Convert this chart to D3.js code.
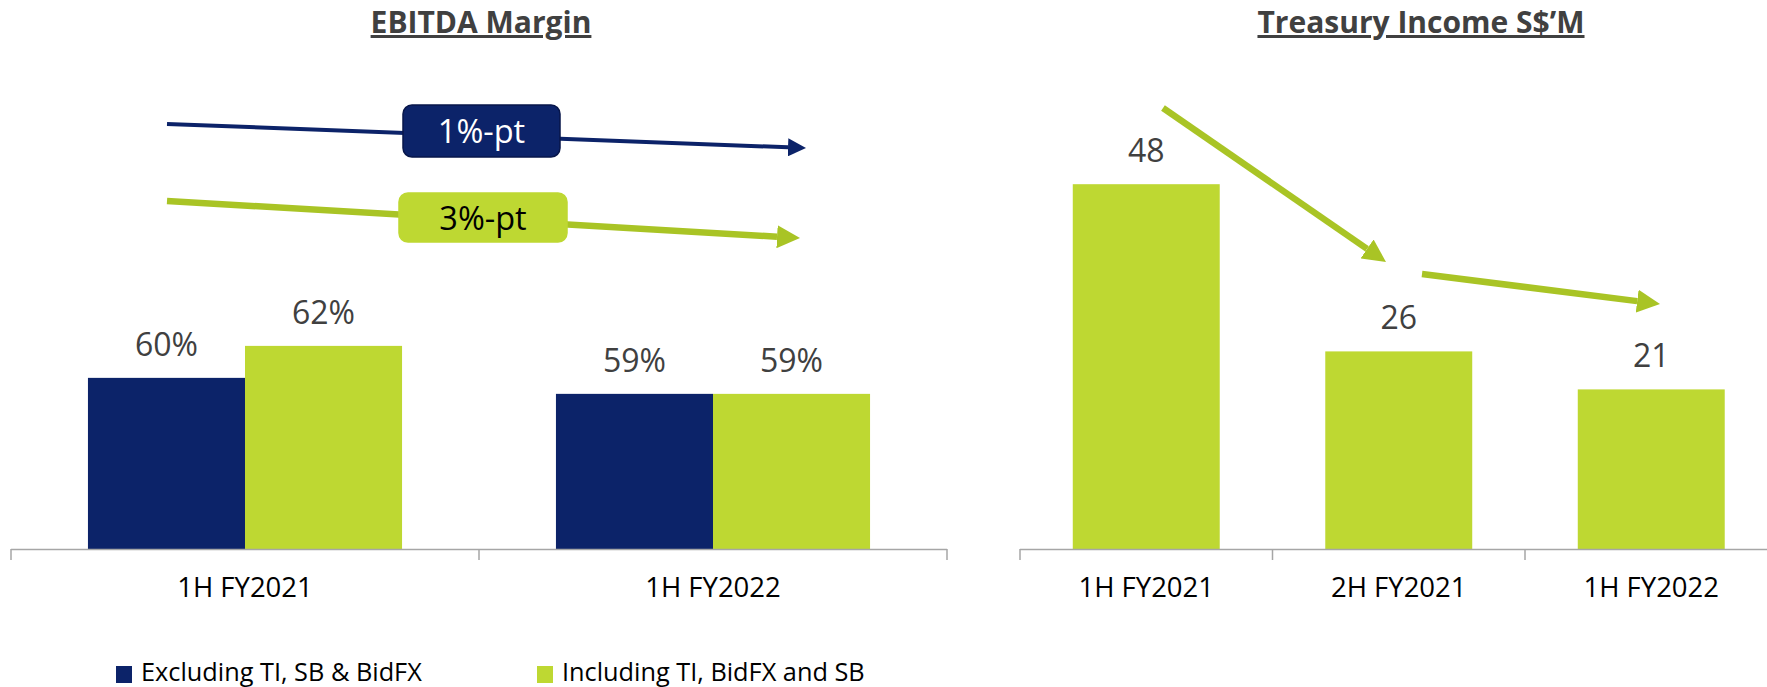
<!DOCTYPE html>
<html lang="en">
<head>
<meta charset="UTF-8">
<title>EBITDA Margin / Treasury Income</title>
<script src="https://d3js.org/d3.v7.min.js"></script>
<style>
body { margin: 0; background: #fff; }
svg { font-family: "Open Sans", sans-serif; }
.title { font-size: 30px; font-weight: bold; fill: #404040; text-decoration: underline; }
.val { font-size: 32px; fill: #404040; }
.box { font-size: 32.5px; }
.cat { font-size: 27.5px; fill: #000; }
.legend { font-size: 25.3px; fill: #000; }
</style>
</head>
<body>
<svg id="chart" width="1767" height="687"></svg>
<script>
// data
const marginCats = ["1H FY2021", "1H FY2022"];
const marginSeries = ["Excluding TI, SB & BidFX", "Including TI, BidFX and SB"];
const marginExcl = [60, 59];
const marginIncl = [62, 59];
const marginDeltas = ["1%-pt", "3%-pt"];

const tiCats = ["1H FY2021", "2H FY2021", "1H FY2022"];
const tiValues = [48, 26, 21];

const navy = "#0c2369";
const green = "#bed832";
const arrowGreen = "#a9c425";

const svg = d3.select("#chart");
const baseY = 549;

// arrow heads (start at the line end, tip sits len further on)
const defs = svg.append("defs");
const heads = {};
function head(id, color, len, wid) {
    heads[id] = len;
    defs.append("marker")
        .attr("id", id)
        .attr("markerUnits", "userSpaceOnUse")
        .attr("viewBox", `0 0 ${len} ${wid}`)
        .attr("refX", 0).attr("refY", wid / 2)
        .attr("markerWidth", len).attr("markerHeight", wid)
        .attr("orient", "auto")
        .append("path")
        .attr("d", `M0,0L${len},${wid / 2}L0,${wid}Z`)
        .attr("fill", color);
}
head("hNavy", navy, 18, 18);
head("hGreen", arrowGreen, 23, 23);

function arrow(from, to, color, w, id) {
    const dx = to[0] - from[0], dy = to[1] - from[1], L = Math.hypot(dx, dy);
    const k = heads[id];
    return svg.append("line")
        .attr("x1", from[0]).attr("y1", from[1])
        .attr("x2", to[0] - k * dx / L).attr("y2", to[1] - k * dy / L)
        .attr("stroke", color).attr("stroke-width", w)
        .attr("marker-end", `url(#${id})`);
}

// ---------- left : EBITDA margin ----------
const x0 = d3.scaleBand().domain(marginCats).range([11, 947]);
const x1 = d3.scaleBand().domain(marginSeries).range([0, x0.bandwidth()]).paddingOuter(0.49);
const y = d3.scaleLinear().domain([49.3, 80]).range([baseY, 58]);

const rows = marginCats.map((c, i) => ({ cat: c, vals: [marginExcl[i], marginIncl[i]] }));
const colors = [navy, green];

svg.append("text").attr("class", "title")
    .attr("x", 481).attr("y", 33).attr("text-anchor", "middle")
    .text("EBITDA Margin");

const grp = svg.selectAll(".grp").data(rows).enter().append("g")
    .attr("transform", d => `translate(${x0(d.cat)},0)`);

grp.selectAll("rect").data(d => d.vals.map((v, k) => ({ s: marginSeries[k], v: v, k: k })))
    .enter().append("rect")
    .attr("x", d => x1(d.s))
    .attr("y", d => y(d.v))
    .attr("width", x1.bandwidth())
    .attr("height", d => baseY - y(d.v))
    .attr("fill", d => colors[d.k]);

grp.selectAll(".val").data(d => d.vals.map((v, k) => ({ s: marginSeries[k], v: v })))
    .enter().append("text").attr("class", "val")
    .attr("x", d => x1(d.s) + x1.bandwidth() / 2)
    .attr("y", d => y(d.v) - 22)
    .attr("text-anchor", "middle")
    .text(d => d.v + "%");

// axis
function drawAxis(x, x1end, ticks) {
    svg.append("line").attr("x1", x).attr("x2", x1end)
        .attr("y1", baseY + 0.5).attr("y2", baseY + 0.5)
        .attr("stroke", "#a6a6a6").attr("stroke-width", 1.5);
    svg.selectAll(null).data(ticks).enter().append("line")
        .attr("x1", d => d).attr("x2", d => d)
        .attr("y1", baseY).attr("y2", baseY + 11)
        .attr("stroke", "#a6a6a6").attr("stroke-width", 1.5);
}
drawAxis(11, 947, marginCats.map(c => x0(c)).concat([x0.range()[1]]));

svg.selectAll(".catL").data(marginCats).enter().append("text").attr("class", "cat")
    .attr("x", d => x0(d) + x0.bandwidth() / 2)
    .attr("y", 597)
    .attr("text-anchor", "middle")
    .text(d => d);

// trend arrows with delta boxes
const trend = [
    { from: [167, 124], to: [806, 148], color: navy, head: "hNavy", w: 4, box: [403, 105, 157, 52], fill: navy, stroke: "#07164a", txt: "#fff" },
    { from: [167, 201], to: [800, 238], color: arrowGreen, head: "hGreen", w: 6.5, box: [399, 193, 168, 49], fill: green, stroke: green, txt: "#000" }
];
trend.forEach((t, i) => {
    arrow(t.from, t.to, t.color, t.w, t.head);
    svg.append("rect")
        .attr("x", t.box[0]).attr("y", t.box[1])
        .attr("width", t.box[2]).attr("height", t.box[3])
        .attr("rx", 9)
        .attr("fill", t.fill).attr("stroke", t.stroke).attr("stroke-width", 1.5);
    svg.append("text").attr("class", "box")
        .attr("x", t.box[0] + t.box[2] / 2).attr("y", t.box[1] + t.box[3] / 2 + 12)
        .attr("text-anchor", "middle")
        .style("fill", t.txt)
        .text(marginDeltas[i]);
});

// legend
const leg = svg.selectAll(".leg").data(marginSeries).enter().append("g")
    .attr("transform", (d, i) => `translate(${[116, 537][i]},666)`);
leg.append("rect").attr("width", 16).attr("height", 17).attr("fill", (d, i) => colors[i]);
leg.append("text").attr("class", "legend").attr("x", 25).attr("y", 14.5).text(d => d);

// ---------- right : Treasury income ----------
const xr = d3.scaleBand().domain(tiCats).range([1020, 1777.5]).paddingInner(0.418).paddingOuter(0.209);
const yr = d3.scaleLinear().domain([0, 60]).range([baseY, 93]);

svg.append("text").attr("class", "title")
    .attr("x", 1421).attr("y", 33).attr("text-anchor", "middle")
    .text("Treasury Income S$\u2019M");

svg.selectAll(".tiBar").data(tiValues).enter().append("rect")
    .attr("x", (d, i) => xr(tiCats[i]))
    .attr("y", d => yr(d))
    .attr("width", xr.bandwidth())
    .attr("height", d => baseY - yr(d))
    .attr("fill", green);

svg.selectAll(".tiVal").data(tiValues).enter().append("text").attr("class", "val")
    .attr("x", (d, i) => xr(tiCats[i]) + xr.bandwidth() / 2)
    .attr("y", d => yr(d) - 22)
    .attr("text-anchor", "middle")
    .text(d => d);

const stepR = xr.step();
const tickR = tiCats.map(c => xr(c) - xr.paddingOuter() * stepR);
drawAxis(1020, 1767, tickR);

svg.selectAll(".catR").data(tiCats).enter().append("text").attr("class", "cat")
    .attr("x", d => xr(d) + xr.bandwidth() / 2)
    .attr("y", 597)
    .attr("text-anchor", "middle")
    .text(d => d);

arrow([1163, 108], [1386, 262], arrowGreen, 6.5, "hGreen");
arrow([1422, 274], [1660, 304], arrowGreen, 6.5, "hGreen");
</script>
</body>
</html>
